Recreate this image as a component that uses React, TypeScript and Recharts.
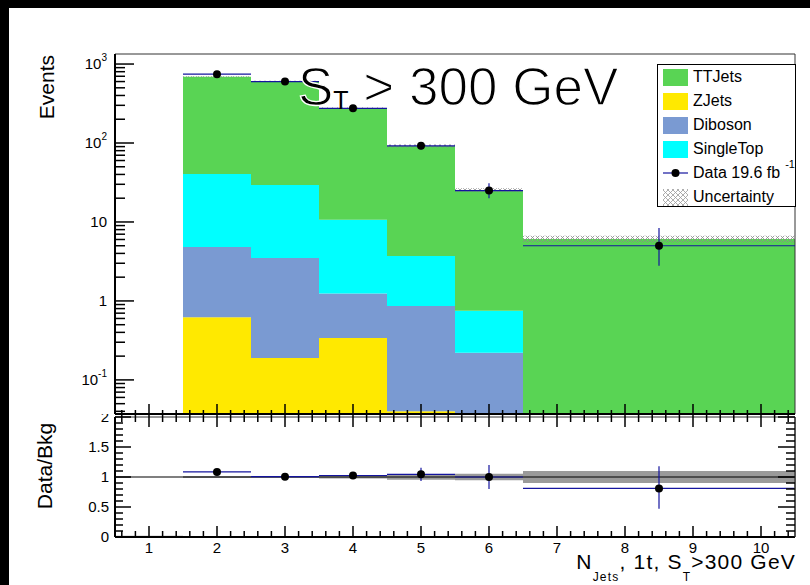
import React from "react"
import {
  ComposedChart,
  Area,
  Scatter,
  ErrorBar,
  XAxis,
  YAxis,
  ReferenceArea,
  ReferenceLine,
} from "recharts"

// N_jets bins: 1.5-2.5 ... 5.5-6.5, then one wide bin 6.5-10.5
const binEdges = [1.5, 2.5, 3.5, 4.5, 5.5, 6.5, 10.5]
const zJets = [0.62, 0.19, 0.34, 0.04, 0, 0]
const diboson = [4.2, 3.3, 0.9, 0.82, 0.22, 0]
const singleTop = [35.8, 25.9, 9.4, 2.84, 0.53, 0]
const ttJets = [649, 578, 264, 88, 24.6, 6.1]
const bkgRelUnc = [0.015, 0.012, 0.025, 0.045, 0.055, 0.1]

const dataX = [2, 3, 4, 5, 6, 8.5]
const dataHalfWidth = [0.5, 0.5, 0.5, 0.5, 0.5, 2]
const dataEvents = [745, 600, 275, 92, 25, 5]
const dataErrDown = [27, 24, 16, 9.5, 5, 2.2]
const dataErrUp = [28, 25, 17, 10, 6, 3.4]

const ratio = [1.085, 1.005, 1.025, 1.045, 1.0, 0.81]
const ratioErrDown = [0.04, 0.04, 0.06, 0.11, 0.2, 0.34]
const ratioErrUp = [0.04, 0.04, 0.06, 0.11, 0.2, 0.37]
const emptyBinBand = [0, 0.02]

const xMajorTicks = [1, 2, 3, 4, 5, 6, 7, 8, 9, 10]
const xTickLabels = ["1", "2", "3", "4", "5", "6", "7", "8", "9", "10"]
const logMajorTicks = [0.1, 1, 10, 100, 1000]
const logTickLabels = ["10", "1", "10", "10", "10"]
const logTickExps = ["-1", "", "", "2", "3"]
const ratioMajorTicks = [0, 0.5, 1, 1.5, 2]
const ratioTickLabels = ["0", "0.5", "1", "1.5", "2"]

const W = 810
const H = 585
const FONT = '"Liberation Sans", Arial, Helvetica, sans-serif'
const NAVY = "#14149e"
const C_TT = "#59d454"
const C_Z = "#ffe900"
const C_DB = "#7a9ad2"
const C_ST = "#00ffff"

const yMin = 0.037
const yMax = 1340

const stackRows = binEdges.map((x, i) => {
  const k = Math.min(i, ttJets.length - 1)
  const lo = (v: number) => Math.max(v, yMin)
  const c1 = zJets[k]
  const c2 = c1 + diboson[k]
  const c3 = c2 + singleTop[k]
  const c4 = c3 + ttJets[k]
  return {
    x,
    zj: [yMin, lo(c1)],
    db: [lo(c1), lo(c2)],
    st: [lo(c2), lo(c3)],
    tt: [lo(c3), lo(c4)],
    unc: [c4 * (1 - bkgRelUnc[k]), c4 * (1 + bkgRelUnc[k])],
  }
})

const ratioRows = [
  { x: 0.5, band: emptyBinBand },
  ...binEdges.map((x, i) => {
    const k = Math.min(i, bkgRelUnc.length - 1)
    return { x, band: [1 - bkgRelUnc[k], 1 + bkgRelUnc[k]] }
  }),
]

const dataPts = dataX.map((x, i) => ({
  x,
  y: dataEvents[i],
  ex: dataHalfWidth[i],
  ey: [dataErrDown[i], dataErrUp[i]],
}))

const ratioPts = dataX.map((x, i) => ({
  x,
  y: ratio[i],
  ex: dataHalfWidth[i],
  ey: [ratioErrDown[i], ratioErrUp[i]],
}))

// tick positions (ROOT style: minor ticks every 0.2 on x, 2..9 per decade on y)
const xAllTicks = Array.from({ length: 50 }, (_, i) => Math.round((0.6 + 0.2 * i) * 10) / 10)
const logAllTicks: number[] = []
for (const d of [0.01, 0.1, 1, 10, 100]) {
  for (let m = 1; m <= 9; m++) {
    const v = +(d * m).toPrecision(3)
    if (v >= yMin && v <= yMax) logAllTicks.push(v)
  }
}
logAllTicks.push(1000)
const ratioAllTicks = Array.from({ length: 21 }, (_, i) => Math.round(i) / 10)

const near = (a: number, b: number) => Math.abs(a - b) < 1e-6 * Math.max(1, Math.abs(b))

const LogTick = ({ x, y, payload }: any) => {
  const idx = logMajorTicks.findIndex((t) => near(payload.value, t))
  const major = idx >= 0
  return (
    <g>
      <line x1={x} x2={x + (major ? 19 : 10)} y1={y} y2={y} stroke="#000" strokeWidth={1.5} />
      {major && (
        <text x={x - 8} y={y + 5} textAnchor="end" fontSize={15} fontFamily={FONT} fill="#000">
          {logTickLabels[idx]}
          {logTickExps[idx] && (
            <tspan dy={-8} fontSize={10}>
              {logTickExps[idx]}
            </tspan>
          )}
        </text>
      )}
    </g>
  )
}

const UpperXTick = ({ x, y, payload }: any) => {
  const major = near(payload.value, Math.round(payload.value))
  return (
    <line x1={x} x2={x} y1={y - (major ? 10 : 4)} y2={y + (major ? 13 : 8)} stroke="#000" strokeWidth={1.5} />
  )
}

const RatioXTick = ({ x, y, payload }: any) => {
  const idx = xMajorTicks.findIndex((t) => near(payload.value, t))
  const major = idx >= 0
  return (
    <g>
      <line x1={x} x2={x} y1={y - (major ? 11 : 6)} y2={y} stroke="#000" strokeWidth={1.5} />
      {major && (
        <text x={x} y={y + 16} textAnchor="middle" fontSize={15} fontFamily={FONT} fill="#000">
          {xTickLabels[idx]}
        </text>
      )}
    </g>
  )
}

const RatioLeftTick = ({ x, y, payload }: any) => {
  const idx = ratioMajorTicks.findIndex((t) => near(payload.value, t))
  const major = idx >= 0
  return (
    <g>
      <line x1={x} x2={x + (major ? 16 : 8)} y1={y} y2={y} stroke="#000" strokeWidth={1.5} />
      {major && (
        <text x={x - 6} y={y + 5} textAnchor="end" fontSize={15} fontFamily={FONT} fill="#000">
          {ratioTickLabels[idx]}
        </text>
      )}
    </g>
  )
}

const RatioRightTick = ({ x, y, payload }: any) => {
  const major = ratioMajorTicks.some((t) => near(payload.value, t))
  return <line x1={x - (major ? 17 : 9)} x2={x} y1={y} y2={y} stroke="#000" strokeWidth={1.5} />
}

const Dot = (p: any) => <circle cx={p.cx} cy={p.cy} r={4} fill="#000" />

function MainPanel() {
  return (
    <ComposedChart width={W} height={440} data={stackRows} margin={{ top: 54, right: 15, bottom: 0, left: 0 }}>
      <defs>
        <pattern id="hatch" width="5" height="5" patternUnits="userSpaceOnUse">
          <path d="M0,0 L5,5 M5,0 L0,5" stroke="#8a8a8a" strokeWidth={0.8} />
        </pattern>
      </defs>
      <Area dataKey="zj" type="stepAfter" fill={C_Z} fillOpacity={1} stroke="none" dot={false} activeDot={false} isAnimationActive={false} />
      <Area dataKey="db" type="stepAfter" fill={C_DB} fillOpacity={1} stroke="none" dot={false} activeDot={false} isAnimationActive={false} />
      <Area dataKey="st" type="stepAfter" fill={C_ST} fillOpacity={1} stroke="none" dot={false} activeDot={false} isAnimationActive={false} />
      <Area dataKey="tt" type="stepAfter" fill={C_TT} fillOpacity={1} stroke="none" dot={false} activeDot={false} isAnimationActive={false} />
      <Area dataKey="unc" type="stepAfter" fill="url(#hatch)" fillOpacity={1} stroke="none" dot={false} activeDot={false} isAnimationActive={false} />
      <Scatter data={dataPts} dataKey="y" shape={Dot} isAnimationActive={false}>
        <ErrorBar dataKey="ex" direction="x" width={0} stroke={NAVY} strokeWidth={1.2} />
        <ErrorBar dataKey="ey" direction="y" width={0} stroke={NAVY} strokeWidth={1.2} />
      </Scatter>
      <ReferenceArea x1={0.5} x2={10.5} y1={yMin} y2={yMax} fill="none" stroke="#333" strokeWidth={1} ifOverflow="visible" />
      <XAxis
        type="number"
        dataKey="x"
        domain={[0.5, 10.5]}
        ticks={xAllTicks}
        interval={0}
        height={26}
        tickSize={0}
        tickMargin={0}
        tickLine={false}
        tick={<UpperXTick />}
        axisLine={{ stroke: "#000", strokeWidth: 2 }}
      />
      <YAxis
        scale="log"
        domain={[yMin, yMax]}
        allowDataOverflow
        ticks={logAllTicks}
        interval={0}
        width={115}
        tickSize={0}
        tickMargin={0}
        tickLine={false}
        tick={<LogTick />}
        axisLine={{ stroke: "#000", strokeWidth: 2 }}
      />
    </ComposedChart>
  )
}

function RatioPanel() {
  return (
    <ComposedChart width={W} height={185} data={ratioRows} margin={{ top: 17, right: 0, bottom: 0, left: 0 }}>
      <Area yAxisId="l" dataKey="band" type="stepAfter" fill="#9a9a9a" fillOpacity={1} stroke="none" dot={false} activeDot={false} isAnimationActive={false} />
      <ReferenceLine yAxisId="l" y={1} stroke="#000" strokeWidth={1.2} />
      <Scatter yAxisId="l" data={ratioPts} dataKey="y" shape={Dot} isAnimationActive={false}>
        <ErrorBar dataKey="ex" direction="x" width={0} stroke={NAVY} strokeWidth={1.2} />
        <ErrorBar dataKey="ey" direction="y" width={0} stroke={NAVY} strokeWidth={1.2} />
      </Scatter>
      <ReferenceArea yAxisId="l" x1={0.5} x2={10.5} y1={0} y2={2} fill="none" stroke="#333" strokeWidth={1} ifOverflow="visible" />
      <XAxis
        type="number"
        dataKey="x"
        domain={[0.5, 10.5]}
        ticks={xAllTicks}
        interval={0}
        height={48}
        tickSize={0}
        tickMargin={0}
        tickLine={false}
        tick={<RatioXTick />}
        axisLine={{ stroke: "#000", strokeWidth: 2 }}
      />
      <YAxis
        yAxisId="l"
        domain={[0, 2]}
        allowDataOverflow
        ticks={ratioAllTicks}
        interval={0}
        width={115}
        tickSize={0}
        tickMargin={0}
        tickLine={false}
        tick={<RatioLeftTick />}
        axisLine={{ stroke: "#000", strokeWidth: 2 }}
      />
      <YAxis
        yAxisId="r"
        orientation="right"
        domain={[0, 2]}
        allowDataOverflow
        ticks={ratioAllTicks}
        interval={0}
        width={15}
        tickSize={0}
        tickMargin={0}
        tickLine={false}
        tick={<RatioRightTick />}
        axisLine={{ stroke: "#555", strokeWidth: 2 }}
      />
    </ComposedChart>
  )
}

const legendRows = [
  { label: "TTJets", kind: "fill", color: C_TT },
  { label: "ZJets", kind: "fill", color: C_Z },
  { label: "Diboson", kind: "fill", color: C_DB },
  { label: "SingleTop", kind: "fill", color: C_ST },
  { label: "Data 19.6 fb", kind: "data", color: NAVY },
  { label: "Uncertainty", kind: "hatch", color: "#888" },
]

function LegendBox() {
  return (
    <div
      style={{
        position: "absolute",
        left: 657,
        top: 64,
        width: 139,
        height: 143,
        boxSizing: "border-box",
        border: "1px solid #000",
        background: "#fff",
        zIndex: 4,
        fontFamily: FONT,
        fontSize: 16,
      }}
    >
      {legendRows.map((r, i) => (
        <div key={r.label} style={{ position: "absolute", left: 0, top: 24 * i, height: 24, width: 137 }}>
          <svg width={32} height={24} style={{ position: "absolute", left: 0, top: 0 }}>
            <defs>
              <pattern id={"lh" + i} width="5" height="5" patternUnits="userSpaceOnUse">
                <path d="M0,0 L5,5 M5,0 L0,5" stroke="#999" strokeWidth={0.8} />
              </pattern>
            </defs>
            {r.kind === "fill" && <rect x={5} y={4} width={25} height={17} fill={r.color} />}
            {r.kind === "hatch" && <rect x={5} y={4} width={25} height={17} fill={"url(#lh" + i + ")"} />}
            {r.kind === "data" && (
              <g>
                <line x1={5} x2={30} y1={12} y2={12} stroke={r.color} strokeWidth={1.2} />
                <circle cx={17.5} cy={12} r={4} fill="#000" />
              </g>
            )}
          </svg>
          <div style={{ position: "absolute", left: 35, top: 2, lineHeight: "20px", whiteSpace: "nowrap" }}>
            {r.label}
            {r.kind === "data" && (
              <span style={{ position: "relative", top: -10, left: 5, fontSize: 11 }}>-1</span>
            )}
          </div>
        </div>
      ))}
    </div>
  )
}

export default function App() {
  return (
    <div style={{ position: "absolute", left: 0, top: 0, width: W, height: H, background: "#fff", overflow: "hidden", fontFamily: FONT }}>
      <div style={{ position: "absolute", left: 0, top: 400, zIndex: 1 }}>
        <RatioPanel />
      </div>
      <div style={{ position: "absolute", left: 0, top: 0, width: W, height: 414, background: "#fff", zIndex: 2 }} />
      <div style={{ position: "absolute", left: 0, top: 0, zIndex: 3 }}>
        <MainPanel />
      </div>
      <LegendBox />
      <svg width={W} height={H} style={{ position: "absolute", left: 0, top: 0, zIndex: 5, pointerEvents: "none" }}>
        <text x={298} y={105} fontFamily={FONT} fontSize={53} fill="#000" stroke="#fff" strokeWidth={1.3}>
          S
          <tspan fontSize={25} dy={4} stroke="none">
            T
          </tspan>
          <tspan dy={-4}>{" > 300 GeV"}</tspan>
        </text>
        <text transform="translate(54,55) rotate(-90)" textAnchor="end" fontSize={21} fontFamily={FONT} fill="#000">
          Events
        </text>
        <text transform="translate(52,466) rotate(-90)" textAnchor="middle" fontSize={21} fontFamily={FONT} fill="#000">
          Data/Bkg
        </text>
        <text x={796} y={569} textAnchor="end" fontSize={21} letterSpacing={1.2} fontFamily={FONT} fill="#000">
          N
          <tspan fontSize={12} dy={12}>
            Jets
          </tspan>
          <tspan dy={-12}>{", 1t, S"}</tspan>
          <tspan fontSize={12} dy={12}>
            T
          </tspan>
          <tspan dy={-12}>{">300 GeV"}</tspan>
        </text>
      </svg>
      <div style={{ position: "absolute", left: 0, top: 0, width: W, height: 8, background: "#000", zIndex: 10 }} />
      <div style={{ position: "absolute", left: 0, top: 0, width: 9, height: H, background: "#000", zIndex: 10 }} />
    </div>
  )
}
